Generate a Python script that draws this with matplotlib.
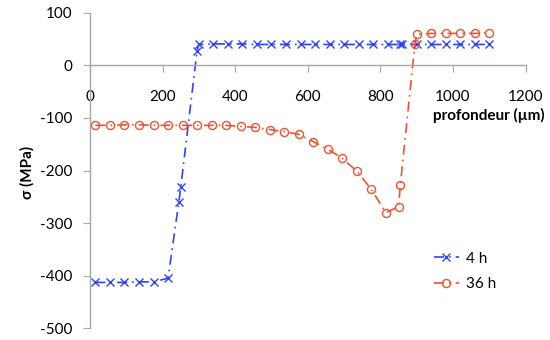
import matplotlib
matplotlib.use('Agg')
import matplotlib.pyplot as plt

plt.rcParams['font.family'] = ['Lato', 'DejaVu Sans']
plt.rcParams['axes.unicode_minus'] = False

# depth profiles of residual stress (MPa) vs depth (um)
depth_4h = [15, 55, 95, 135, 175, 215, 245, 250, 295, 300, 340, 380, 420, 460, 500,
            540, 580, 620, 660, 700, 740, 780, 820, 855, 860, 900, 940, 980, 1020,
            1060, 1100]
sigma_4h = [-413, -413, -413, -412, -412, -405, -259, -232, 28, 40, 41, 41, 41, 40, 40,
            40, 40, 40, 40, 40, 40, 40, 40, 40, 40, 40, 40, 40, 40, 40, 40]

depth_36h = [15, 55, 95, 135, 175, 215, 255, 295, 335, 375, 415, 455, 495, 535, 575,
             615, 655, 695, 735, 775, 815, 850, 855, 895, 900, 940, 980, 1020, 1060,
             1100]
sigma_36h = [-114, -114, -113, -113, -114, -114, -114, -114, -114, -114, -116, -118,
             -122, -126, -131, -145, -159, -177, -201, -236, -280, -269, -227, 40, 59,
             61, 61, 61, 61, 62]

x_ticks = [0, 200, 400, 600, 800, 1000, 1200]
y_ticks = [-500, -400, -300, -200, -100, 0, 100]

blue = '#2f45f5'
red = '#ef5230'

fig = plt.figure(figsize=(5.5, 3.4), dpi=100)
ax = fig.add_axes([0.1636, 0.035, 0.792, 0.927])

ax.plot(depth_4h, sigma_4h, color=blue, lw=1.2, dashes=(6, 3, 1, 3),
        marker='x', ms=6, mew=1.0, label='4 h')
ax.plot(depth_36h, sigma_36h, color=red, lw=1.2, dashes=(6, 3, 1, 3),
        marker='o', ms=5.8, mew=1.0, mfc='none', label='36 h')

ax.set_xlim(0, 1200)
ax.set_ylim(-500, 100)
ax.set_xticks(x_ticks)
ax.set_yticks(y_ticks)

for s in ['top', 'right']:
    ax.spines[s].set_visible(False)
ax.spines['bottom'].set_position(('data', 0))
for s in ['left', 'bottom']:
    ax.spines[s].set_color('#a6a6a6')
    ax.spines[s].set_linewidth(1.0)

ax.tick_params(axis='x', direction='out', length=5, color='#a6a6a6', pad=13,
               labelsize=11)
ax.tick_params(axis='y', direction='out', length=5, color='#a6a6a6', pad=8,
               labelsize=11)

fig.text(545 / 550, 1 - 115 / 340, 'profondeur (µm)', ha='right', va='center',
         fontsize=11, fontweight='bold')
fig.text(27 / 550, 1 - 172 / 340, 'σ (MPa)', ha='center', va='center',
         rotation=90, fontsize=11, fontweight='bold')

ax.legend(loc='center left', bbox_to_anchor=(0.79, 0.18), frameon=False,
          fontsize=11, handlelength=1.6, handletextpad=0.5, labelspacing=0.75,
          borderpad=0, borderaxespad=0)

fig.savefig('out.png', dpi=100)
